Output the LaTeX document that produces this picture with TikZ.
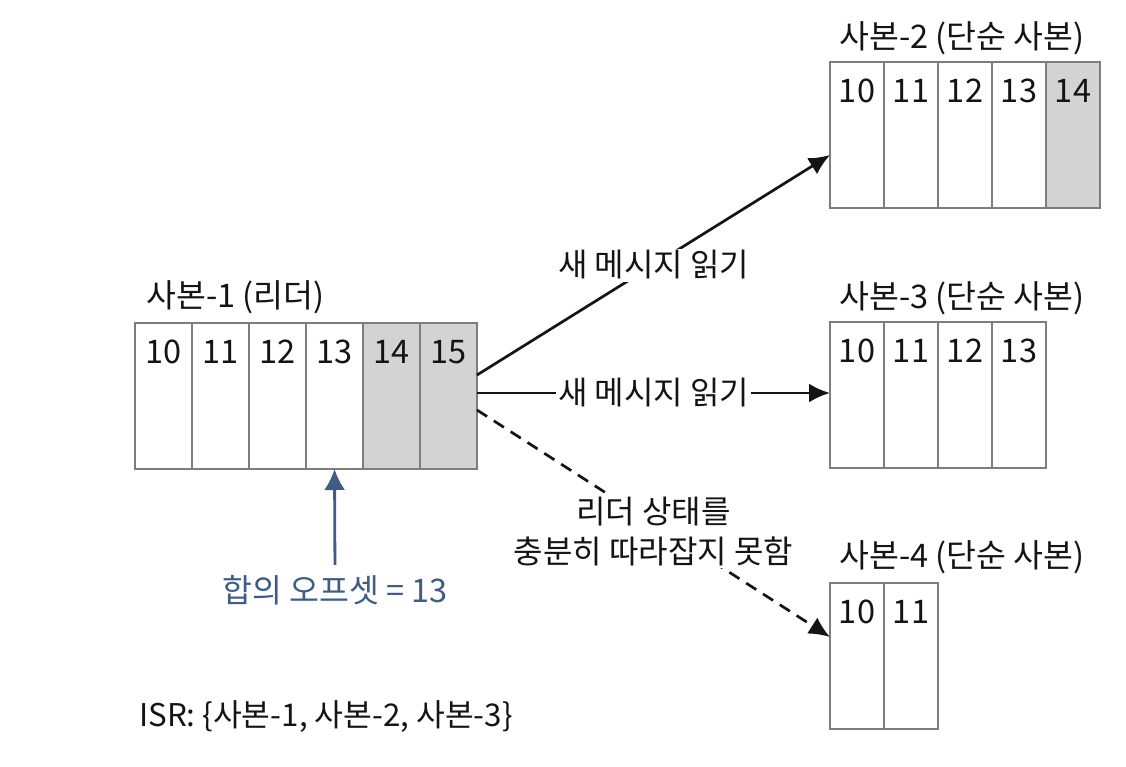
\documentclass[tikz,border=0pt]{standalone}
\usepackage{fontspec}
\setmainfont{Noto Sans CJK KR}
\usetikzlibrary{arrows.meta}
\definecolor{cellgray}{RGB}{211,211,211}
\definecolor{bordergray}{RGB}{125,125,125}
\definecolor{offblue}{RGB}{62,92,133}
\definecolor{ink}{RGB}{20,20,20}
\begin{document}
\begin{tikzpicture}[x=1pt,y=-1pt,
  font=\fontsize{32.5}{38}\selectfont, text=ink,
  cellA/.style={draw=bordergray,line width=1.8pt,fill=white,minimum width=57pt,minimum height=146pt,inner sep=0pt,outer sep=0pt},
  cellB/.style={draw=bordergray,line width=1.8pt,fill=white,minimum width=54pt,minimum height=146pt,inner sep=0pt,outer sep=0pt},
  shaded/.style={fill=cellgray},
  num/.style={inner sep=0pt},
  title/.style={anchor=west,inner sep=0pt},
  conn/.style={line width=2.7pt,draw=ink,-{Latex[length=21pt,width=19pt]}},
  lbl/.style={fill=white,inner sep=2pt,align=center,font=\fontsize{32}{40}\selectfont}
]
\useasboundingbox (0,0) rectangle (1126,766);

% Leader
\foreach \i/\v/\s in {1/10/,2/11/,3/12/,4/13/,5/14/shaded,6/15/shaded}{
  \node[cellA,\s] (L\i) at ({135+28.5+57*(\i-1)},396) {};
  \node[num] at ([yshift=-29pt]L\i.north) {\v};
}
\node[title] (Lt) at (146,297) {사본-1 (리더)};

% Replica 2
\foreach \i/\v/\s in {1/10/,2/11/,3/12/,4/13/,5/14/shaded}{
  \node[cellB,\s] (A\i) at ({830+27+54*(\i-1)},135) {};
  \node[num] at ([yshift=-29pt]A\i.north) {\v};
}
\node[title] (At) at (839,38) {사본-2 (단순 사본)};

% Replica 3
\foreach \i/\v in {1/10,2/11,3/12,4/13}{
  \node[cellB] (B\i) at ({830+27+54*(\i-1)},395) {};
  \node[num] at ([yshift=-29pt]B\i.north) {\v};
}
\node[title] (Bt) at (839,298) {사본-3 (단순 사본)};

% Replica 4
\foreach \i/\v in {1/10,2/11}{
  \node[cellB] (C\i) at ({830+27+54*(\i-1)},656) {};
  \node[num] at ([yshift=-29pt]C\i.north) {\v};
}
\node[title] (Ct) at (839,557) {사본-4 (단순 사본)};

% Connectors
\draw[conn] ([yshift=21pt]L6.east) -- node[lbl] {새 메시지 읽기} ([yshift=-20pt]A1.west);
\draw[conn] ([yshift=3pt]L6.east) -- node[lbl] {새 메시지 읽기} ([yshift=2pt]B1.west);
\draw[conn,dash pattern=on 12pt off 8pt] ([yshift=-14pt]L6.east) -- node[lbl,yshift=-8pt] {리더 상태를\\충분히 따라잡지 못함} ([yshift=19pt]C1.west);

% Consensus offset
\node[text=offblue,inner sep=0pt] (off) at (335,590) {합의 오프셋 = 13};
\draw[line width=2.8pt,draw=offblue,-{Latex[length=21pt,width=21pt]},shorten <=10pt] (off.north) -- (L4.south);

\node[title,font=\fontsize{31.3}{38}\selectfont] (isr) at (139,717) {ISR: \{사본-1, 사본-2, 사본-3\}};
\end{tikzpicture}
\end{document}
